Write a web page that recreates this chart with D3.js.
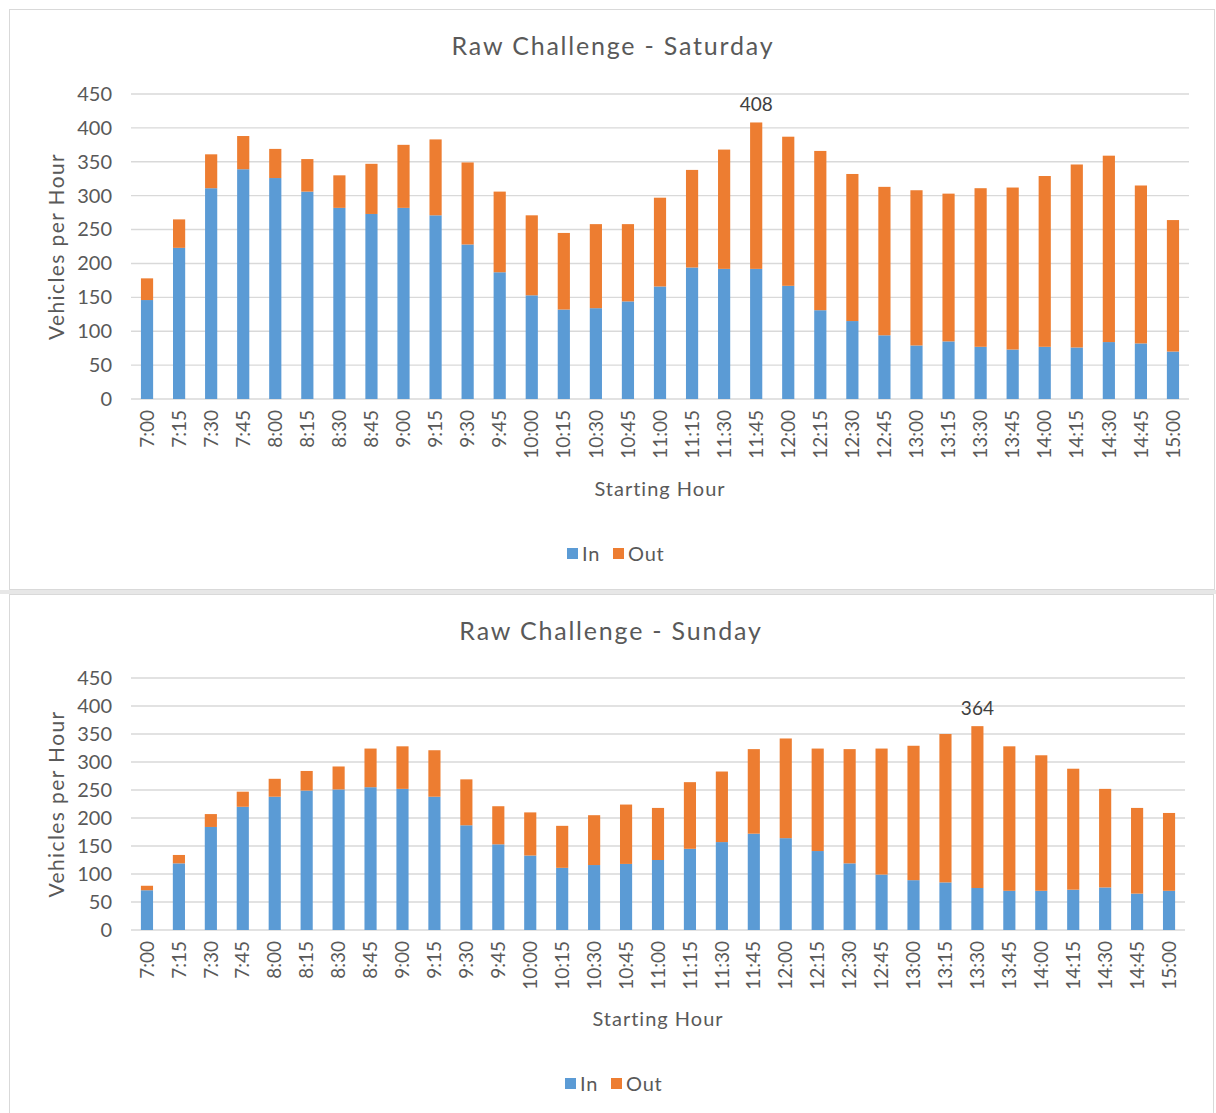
<!DOCTYPE html>
<html>
<head>
<meta charset="utf-8">
<script src="https://cdn.jsdelivr.net/npm/d3@7"></script>
<style>
  body { margin: 0; background: #fff; }
  svg text { font-family: "Century Gothic", "URW Gothic", Lato, sans-serif; fill: #595959; }
</style>
</head>
<body>
<svg id="chart" width="1216" height="1113"></svg>
<script>
const times = ['7:00', '7:15', '7:30', '7:45', '8:00', '8:15', '8:30', '8:45', '9:00', '9:15', '9:30', '9:45',
  '10:00', '10:15', '10:30', '10:45', '11:00', '11:15', '11:30', '11:45', '12:00', '12:15', '12:30', '12:45',
  '13:00', '13:15', '13:30', '13:45', '14:00', '14:15', '14:30', '14:45', '15:00'];

const yTicks = [0, 50, 100, 150, 200, 250, 300, 350, 400, 450];

const satIn = [146, 223, 311, 339, 326, 306, 282, 273, 282, 271, 228, 187, 153, 132, 134, 144, 166, 194, 192, 192,
  167, 131, 115, 94, 79, 85, 77, 73, 77, 76, 84, 82, 70];
const satOut = [32, 42, 50, 49, 43, 48, 48, 74, 93, 112, 121, 119, 118, 113, 124, 114, 131, 144, 176, 216,
  220, 235, 217, 219, 229, 218, 234, 239, 252, 270, 275, 233, 194];

const sunIn = [71, 119, 184, 220, 238, 249, 251, 255, 252, 238, 187, 153, 133, 111, 116, 118, 125, 145, 157, 172,
  164, 141, 119, 99, 89, 85, 75, 70, 70, 72, 76, 65, 70];
const sunOut = [8, 15, 23, 27, 32, 35, 41, 69, 76, 83, 82, 68, 77, 75, 89, 106, 93, 119, 126, 151,
  178, 183, 204, 225, 240, 265, 289, 258, 242, 216, 176, 153, 139];

const BLUE = '#5b9bd5';
const ORANGE = '#ed7d31';
const GRID = '#d9d9d9';

const svg = d3.select('#chart');

// panel frames
svg.append('rect').attr('x', 9.5).attr('y', 9.5).attr('width', 1205).attr('height', 580)
  .attr('fill', '#fff').attr('stroke', GRID);
svg.append('rect').attr('x', 0).attr('y', 590).attr('width', 1216).attr('height', 4).attr('fill', '#e7e7e7');
svg.append('rect').attr('x', 9.5).attr('y', 594.5).attr('width', 1204).attr('height', 530)
  .attr('fill', '#fff').attr('stroke', GRID);

function drawChart(opts) {
  const { title, inVals, outVals, top, bottom, right, titleY, xTitleY, legendY, cx } = opts;
  const left = 131;
  const rows = times.map((t, i) => ({ time: t, In: inVals[i], Out: outVals[i] }));
  const stacked = d3.stack().keys(['In', 'Out'])(rows);

  const x = d3.scaleBand().domain(times).range([left, right]).paddingInner(0.62).paddingOuter(0.31);
  const y = d3.scaleLinear().domain([0, 450]).range([bottom, top]);

  const g = svg.append('g');

  g.append('text').attr('x', cx).attr('y', titleY).attr('text-anchor', 'middle')
    .attr('font-size', 25).attr('letter-spacing', 1.8).text(title);

  // gridlines
  g.append('g').selectAll('line').data(yTicks).join('line')
    .attr('x1', left).attr('x2', right)
    .attr('y1', d => y(d)).attr('y2', d => y(d))
    .attr('stroke', GRID).attr('stroke-width', 1.4);

  // y axis labels
  const yAxis = g.append('g').attr('transform', `translate(${left},0)`)
    .call(d3.axisLeft(y).tickValues(yTicks).tickSize(0).tickPadding(19));
  yAxis.select('.domain').remove();
  yAxis.selectAll('text').attr('font-size', 20).style('font-family', null);

  // bars
  g.append('g').selectAll('g').data(stacked).join('g')
    .attr('fill', d => (d.key === 'In' ? BLUE : ORANGE))
    .selectAll('rect').data(d => d).join('rect')
    .attr('x', d => x(d.data.time))
    .attr('width', x.bandwidth())
    .attr('y', d => y(d[1]))
    .attr('height', d => y(d[0]) - y(d[1]));

  // peak label
  const totals = rows.map(r => r.In + r.Out);
  const peak = d3.maxIndex(totals);
  g.append('text').attr('x', x(times[peak]) + x.bandwidth() / 2).attr('y', y(totals[peak]) - 11)
    .attr('text-anchor', 'middle').attr('font-size', 19)
    .style('fill', '#404040').text(totals[peak]);

  // x axis labels
  const xAxis = g.append('g').attr('transform', `translate(0,${bottom})`)
    .call(d3.axisBottom(x).tickSize(0).tickPadding(0));
  xAxis.select('.domain').remove();
  xAxis.selectAll('text')
    .style('font-family', null)
    .attr('font-size', 19)
    .attr('transform', 'rotate(-90)')
    .attr('text-anchor', 'end')
    .attr('x', -11)
    .attr('y', 0)
    .attr('dy', '0.35em');

  // axis titles
  g.append('text').attr('transform', `translate(57,${(top + bottom) / 2}) rotate(-90)`)
    .attr('text-anchor', 'middle').attr('dy', '0.35em').attr('font-size', 21)
    .attr('letter-spacing', 1.4).text('Vehicles per Hour');
  g.append('text').attr('x', (left + right) / 2).attr('y', xTitleY).attr('text-anchor', 'middle')
    .attr('dy', '0.35em').attr('font-size', 20).attr('letter-spacing', 1).text('Starting Hour');

  // legend
  const lg = g.append('g').attr('transform', `translate(${cx - 46},${legendY})`);
  const items = [{ name: 'In', color: BLUE, dx: 0 }, { name: 'Out', color: ORANGE, dx: 46 }];
  items.forEach(it => {
    lg.append('rect').attr('x', it.dx).attr('y', -6).attr('width', 11).attr('height', 11).attr('fill', it.color);
    lg.append('text').attr('x', it.dx + 15).attr('y', 0).attr('dy', '0.35em').attr('font-size', 20)
      .attr('letter-spacing', 0.8).text(it.name);
  });
}

drawChart({
  title: 'Raw Challenge - Saturday', inVals: satIn, outVals: satOut,
  top: 94, bottom: 399, right: 1189, titleY: 55, xTitleY: 489, legendY: 554, cx: 613
});

drawChart({
  title: 'Raw Challenge - Sunday', inVals: sunIn, outVals: sunOut,
  top: 678, bottom: 930, right: 1185, titleY: 640, xTitleY: 1019, legendY: 1084, cx: 611
});
</script>
</body>
</html>
